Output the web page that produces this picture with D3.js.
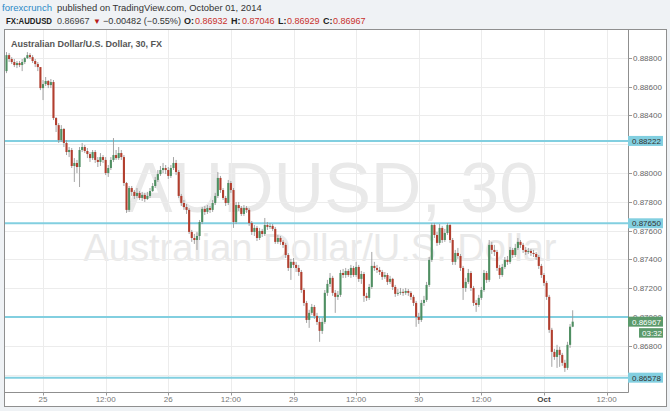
<!DOCTYPE html>
<html><head><meta charset="utf-8">
<script src="https://cdn.jsdelivr.net/npm/d3@7"></script>
<style>body{margin:0;background:#eff2f5;}svg{display:block;}</style>
</head><body><svg id="c" width="670" height="411"></svg>
<script>
// ---- data (AUDUSD, 30-minute bars) ----
const tradingDays = ["2014-09-24","2014-09-25","2014-09-26","2014-09-29","2014-09-30","2014-10-01"];
const firstBarMinute = 17*60;   // first bar 17:00 on the first trading day
const barMinutes = 30;
const opens = [
0.88707,0.88818,0.88791,0.88770,0.88749,0.88763,0.88749,0.88770,0.88797,0.88818,
0.88804,0.88777,0.88756,0.88735,0.88589,0.88617,0.88638,0.88610,0.88631,0.88381,
0.88332,0.88228,0.88305,0.88208,0.88145,0.88159,0.88048,0.88069,0.88041,0.88159,
0.88180,0.88152,0.88131,0.88103,0.88145,0.88090,0.88076,0.88110,0.88090,0.87999,
0.88034,0.88090,0.88124,0.88103,0.88138,0.88110,0.87930,0.87743,0.87895,0.87868,
0.87840,0.87861,0.87826,0.87847,0.87819,0.87840,0.87874,0.87909,0.87951,0.87992,
0.88020,0.88034,0.88020,0.87979,0.88034,0.88069,0.88006,0.87840,0.87791,0.87763,
0.87743,0.87590,0.87548,0.87534,0.87562,0.87659,0.87750,0.87729,0.87756,0.87743,
0.87791,0.87840,0.87965,0.87881,0.87826,0.87791,0.87930,0.87881,0.87659,0.87777,
0.87756,0.87715,0.87756,0.87743,0.87652,0.87590,0.87618,0.87548,0.87597,0.87576,
0.87638,0.87625,0.87632,0.87611,0.87521,0.87548,0.87521,0.87500,0.87430,0.87340,
0.87382,0.87361,0.87340,0.87312,0.87187,0.87097,0.86979,0.87028,0.87069,0.87007,
0.86965,0.86903,0.86965,0.87167,0.87229,0.87271,0.87167,0.87139,0.87153,0.87305,
0.87291,0.87319,0.87291,0.87340,0.87291,0.87347,0.87264,0.87298,0.87146,0.87132,
0.87208,0.87354,0.87340,0.87326,0.87312,0.87278,0.87291,0.87243,0.87264,0.87208,
0.87160,0.87167,0.87174,0.87167,0.87180,0.87167,0.87139,0.87097,0.87000,0.86979,
0.87097,0.87118,0.87222,0.87396,0.87638,0.87569,0.87514,0.87618,0.87534,0.87583,
0.87638,0.87534,0.87382,0.87444,0.87423,0.87340,0.87201,0.87243,0.87305,0.87201,
0.87097,0.87083,0.87132,0.87187,0.87305,0.87257,0.87500,0.87465,0.87451,0.87340,
0.87291,0.87347,0.87396,0.87382,0.87465,0.87430,0.87479,0.87521,0.87500,0.87465,
0.87451,0.87458,0.87444,0.87437,0.87416,0.87354,0.87291,0.87236,0.87139,0.86910,
0.86757,0.86722,0.86771,0.86736,0.86681,0.86646,0.86806,0.86932];
const highs = [
0.88839,0.88832,0.88804,0.88791,0.88777,0.88777,0.88791,0.88804,0.88839,0.88832,
0.88818,0.88791,0.88770,0.88735,0.88645,0.88666,0.88645,0.88652,0.88645,0.88388,
0.88346,0.88332,0.88312,0.88228,0.88180,0.88173,0.88103,0.88090,0.88180,0.88208,
0.88194,0.88173,0.88145,0.88159,0.88159,0.88110,0.88138,0.88124,0.88110,0.88055,
0.88110,0.88242,0.88159,0.88180,0.88159,0.88124,0.87937,0.87909,0.87909,0.87881,
0.87895,0.87874,0.87868,0.87861,0.87868,0.87895,0.87930,0.87972,0.88020,0.88048,
0.88069,0.88055,0.88041,0.88055,0.88110,0.88090,0.88020,0.87854,0.87812,0.87784,
0.87756,0.87604,0.87576,0.87590,0.87673,0.87763,0.87770,0.87777,0.87770,0.87812,
0.87861,0.88006,0.87979,0.87895,0.87840,0.87951,0.87944,0.87895,0.87798,0.87798,
0.87770,0.87777,0.87770,0.87756,0.87666,0.87638,0.87632,0.87618,0.87611,0.87687,
0.87659,0.87652,0.87645,0.87625,0.87569,0.87562,0.87534,0.87514,0.87444,0.87403,
0.87409,0.87382,0.87361,0.87326,0.87201,0.87111,0.87049,0.87090,0.87083,0.87028,
0.86993,0.86993,0.87187,0.87257,0.87305,0.87285,0.87187,0.87180,0.87326,0.87333,
0.87340,0.87333,0.87361,0.87354,0.87382,0.87361,0.87319,0.87312,0.87167,0.87229,
0.87451,0.87382,0.87361,0.87347,0.87326,0.87312,0.87305,0.87285,0.87271,0.87222,
0.87194,0.87201,0.87194,0.87201,0.87194,0.87180,0.87153,0.87111,0.87028,0.87118,
0.87146,0.87243,0.87416,0.87652,0.87652,0.87590,0.87645,0.87632,0.87611,0.87652,
0.87645,0.87548,0.87465,0.87479,0.87437,0.87354,0.87271,0.87333,0.87319,0.87215,
0.87118,0.87153,0.87208,0.87326,0.87319,0.87534,0.87521,0.87500,0.87465,0.87361,
0.87368,0.87416,0.87423,0.87486,0.87479,0.87507,0.87548,0.87534,0.87514,0.87486,
0.87479,0.87472,0.87465,0.87451,0.87430,0.87368,0.87305,0.87250,0.87153,0.86924,
0.86778,0.86806,0.86792,0.86750,0.86702,0.86827,0.86951,0.87046];
const lows = [
0.88693,0.88770,0.88756,0.88735,0.88728,0.88735,0.88707,0.88756,0.88791,0.88791,
0.88763,0.88735,0.88707,0.88575,0.88506,0.88603,0.88589,0.88589,0.88367,0.88284,
0.88208,0.88215,0.88180,0.88124,0.88110,0.88034,0.87937,0.87999,0.87902,0.88145,
0.88138,0.88103,0.88076,0.88090,0.88069,0.88041,0.88048,0.88069,0.87985,0.87972,
0.88020,0.88076,0.88090,0.88090,0.88090,0.87909,0.87722,0.87729,0.87840,0.87819,
0.87826,0.87812,0.87805,0.87798,0.87812,0.87826,0.87868,0.87895,0.87937,0.87979,
0.87999,0.87992,0.87958,0.87965,0.88020,0.87985,0.87826,0.87770,0.87743,0.87715,
0.87576,0.87521,0.87507,0.87465,0.87534,0.87645,0.87708,0.87715,0.87722,0.87729,
0.87777,0.87826,0.87861,0.87812,0.87770,0.87777,0.87861,0.87618,0.87645,0.87736,
0.87701,0.87701,0.87722,0.87632,0.87569,0.87562,0.87527,0.87534,0.87555,0.87562,
0.87604,0.87611,0.87597,0.87507,0.87507,0.87500,0.87479,0.87409,0.87319,0.87257,
0.87340,0.87312,0.87285,0.87167,0.87076,0.86958,0.86924,0.87014,0.86986,0.86944,
0.86827,0.86882,0.86951,0.87146,0.87208,0.87146,0.87028,0.87118,0.87139,0.87271,
0.87271,0.87278,0.87271,0.87278,0.87278,0.87243,0.87229,0.87104,0.87111,0.87118,
0.87194,0.87319,0.87305,0.87291,0.87257,0.87264,0.87222,0.87229,0.87187,0.87139,
0.87146,0.87153,0.87146,0.87153,0.87146,0.87118,0.87076,0.86931,0.86951,0.86965,
0.87076,0.87104,0.87208,0.87382,0.87548,0.87493,0.87500,0.87514,0.87521,0.87569,
0.87514,0.87361,0.87361,0.87403,0.87319,0.87118,0.87174,0.87229,0.87180,0.87076,
0.87035,0.87069,0.87118,0.87174,0.87236,0.87243,0.87437,0.87423,0.87319,0.87264,
0.87278,0.87333,0.87361,0.87368,0.87409,0.87416,0.87465,0.87479,0.87444,0.87430,
0.87437,0.87423,0.87416,0.87396,0.87333,0.87271,0.87215,0.87118,0.86889,0.86653,
0.86702,0.86646,0.86653,0.86660,0.86618,0.86632,0.86785,0.86929];
const closes = [
0.88818,0.88791,0.88770,0.88749,0.88763,0.88749,0.88770,0.88797,0.88818,0.88804,
0.88777,0.88756,0.88735,0.88589,0.88617,0.88638,0.88610,0.88631,0.88381,0.88332,
0.88228,0.88305,0.88208,0.88145,0.88159,0.88048,0.88069,0.88041,0.88159,0.88180,
0.88152,0.88131,0.88103,0.88145,0.88090,0.88076,0.88110,0.88090,0.87999,0.88034,
0.88090,0.88124,0.88103,0.88138,0.88110,0.87930,0.87743,0.87895,0.87868,0.87840,
0.87861,0.87826,0.87847,0.87819,0.87840,0.87874,0.87909,0.87951,0.87992,0.88020,
0.88034,0.88020,0.87979,0.88034,0.88069,0.88006,0.87840,0.87791,0.87763,0.87743,
0.87590,0.87548,0.87534,0.87562,0.87659,0.87750,0.87729,0.87756,0.87743,0.87791,
0.87840,0.87965,0.87881,0.87826,0.87791,0.87930,0.87881,0.87659,0.87777,0.87756,
0.87715,0.87756,0.87743,0.87652,0.87590,0.87618,0.87548,0.87597,0.87576,0.87638,
0.87625,0.87632,0.87611,0.87521,0.87548,0.87521,0.87500,0.87430,0.87340,0.87382,
0.87361,0.87340,0.87312,0.87187,0.87097,0.86979,0.87028,0.87069,0.87007,0.86965,
0.86903,0.86965,0.87167,0.87229,0.87271,0.87167,0.87139,0.87153,0.87305,0.87291,
0.87319,0.87291,0.87340,0.87291,0.87347,0.87264,0.87298,0.87146,0.87132,0.87208,
0.87354,0.87340,0.87326,0.87312,0.87278,0.87291,0.87243,0.87264,0.87208,0.87160,
0.87167,0.87174,0.87167,0.87180,0.87167,0.87139,0.87097,0.87000,0.86979,0.87097,
0.87118,0.87222,0.87396,0.87638,0.87569,0.87514,0.87618,0.87534,0.87583,0.87638,
0.87534,0.87382,0.87444,0.87423,0.87340,0.87201,0.87243,0.87305,0.87201,0.87097,
0.87083,0.87132,0.87187,0.87305,0.87257,0.87500,0.87465,0.87451,0.87340,0.87291,
0.87347,0.87396,0.87382,0.87465,0.87430,0.87479,0.87521,0.87500,0.87465,0.87451,
0.87458,0.87444,0.87437,0.87416,0.87354,0.87291,0.87236,0.87139,0.86910,0.86757,
0.86722,0.86771,0.86736,0.86681,0.86646,0.86806,0.86932,0.86967];
const priceTicks = [0.888,0.886,0.884,0.882,0.880,0.878,0.876,0.874,0.872,0.870,0.868,0.866];
const timeTickLabels = ["25","12:00","26","12:00","29","12:00","30","12:00","Oct","12:00"];
const levelLines = [0.88222, 0.87650, 0.87000, 0.86578];
const levelTagged = [true, true, false, true];
const lastPrice = 0.86967;
const countdown = "03:32";

// ---- layout ----
const svg = d3.select("#c");
const P = {l:5, r:628, t:30, b:392};
const x = d3.scaleLinear().domain([-0.96, 238.2]).range([4, 628]);
const y = d3.scaleLinear().domain([0.864785, 0.889924]).range([P.b, P.t]);
const fmt = d3.format(".5f");
const FONT = "'Liberation Sans', Arial, sans-serif";

// header
svg.append("text").attr("x",2).attr("y",11).attr("font-family",FONT).attr("font-size",9.4)
  .attr("fill","#2d8ac7").attr("textLength",50).attr("lengthAdjust","spacingAndGlyphs").text("forexcrunch");
svg.append("text").attr("x",57).attr("y",11).attr("font-family",FONT).attr("font-size",9.4)
  .attr("fill","#333").text("published on TradingView.com, October 01, 2014");

const h2 = [
 {t:"FX:AUDUSD", x:6, c:"#222", b:true, w:46},
 {t:"0.86967", x:57, c:"#444"},
 {t:"\u25BC", x:93, c:"#b71c1c", s:8},
 {t:"\u22120.00482 (\u22120.55%)", x:103, c:"#333", w:78},
 {t:"O:", x:184, c:"#222", b:true},
 {t:"0.86932", x:195, c:"#c9302c"},
 {t:"H:", x:231, c:"#222", b:true},
 {t:"0.87046", x:242, c:"#c9302c"},
 {t:"L:", x:278, c:"#222", b:true},
 {t:"0.86929", x:287, c:"#c9302c"},
 {t:"C:", x:323, c:"#222", b:true},
 {t:"0.86967", x:333, c:"#c9302c"}
];
svg.selectAll("text.h2").data(h2).join("text").attr("class","h2")
  .attr("x",d=>d.x).attr("y",24).attr("font-family",FONT)
  .attr("font-size",d=>d.s||9).attr("font-weight",d=>d.b?"bold":"normal")
  .attr("textLength",d=>d.w||null).attr("lengthAdjust","spacingAndGlyphs")
  .attr("fill",d=>d.c).text(d=>d.t);

// panel
svg.append("rect").attr("x",4.5).attr("y",29.5).attr("width",662).attr("height",377)
  .attr("fill","#fff").attr("stroke","#8f8f8f");

svg.append("clipPath").attr("id","pc").append("rect")
  .attr("x",5).attr("y",30).attr("width",623).attr("height",362);
const g = svg.append("g").attr("clip-path","url(#pc)");

// watermark
g.append("text").attr("x",332).attr("y",212).attr("text-anchor","middle")
  .attr("font-family",FONT).attr("font-size",70).attr("fill","#e9e9e9").text("AUDUSD, 30");
g.append("text").attr("x",320).attr("y",261).attr("text-anchor","middle")
  .attr("font-family",FONT).attr("font-size",38).attr("fill","#e9e9e9").text("Australian Dollar/U.S. Dollar");

// time slots
const nSlots = 239;
const slots = d3.range(nSlots).map(i => {
  const m = firstBarMinute + barMinutes*i;
  const day = tradingDays[Math.floor(m/1440)] || "2014-10-02";
  return {i, day, min: m % 1440};
});
const tickSlots = slots.filter(s => s.min === 0 || s.min === 720).map((s,k)=>({i:s.i, label: timeTickLabels[k]}))
  .filter(d => d.label !== undefined);

// grid
g.selectAll("line.hg").data(priceTicks).join("line").attr("class","hg")
  .attr("x1",P.l).attr("x2",P.r).attr("y1",d=>Math.round(y(d))+0.5).attr("y2",d=>Math.round(y(d))+0.5)
  .attr("stroke","#ececec");
g.selectAll("line.vg").data(tickSlots).join("line").attr("class","vg")
  .attr("x1",d=>Math.round(x(d.i))+0.5).attr("x2",d=>Math.round(x(d.i))+0.5).attr("y1",P.t).attr("y2",P.b)
  .attr("stroke","#ececec");

// level lines
g.selectAll("line.lv").data(levelLines).join("line").attr("class","lv")
  .attr("x1",P.l).attr("x2",P.r).attr("y1",d=>y(d)).attr("y2",d=>y(d))
  .attr("stroke","#82cfe0").attr("stroke-width",2);

// candles
const bars = closes.map((c,i)=>({i, o:opens[i], h:highs[i], l:lows[i], c}));
const cg = g.append("g");
cg.selectAll("line.wk").data(bars).join("line").attr("class","wk")
  .attr("x1",d=>x(d.i)).attr("x2",d=>x(d.i)).attr("y1",d=>y(d.h)).attr("y2",d=>y(d.l))
  .attr("stroke","#9a9a9a").attr("stroke-width",0.9);
cg.selectAll("rect.bd").data(bars).join("rect").attr("class","bd")
  .attr("x",d=>x(d.i)-1.05).attr("width",2.1)
  .attr("y",d=>y(Math.max(d.o,d.c)))
  .attr("height",d=>Math.max(1, Math.abs(y(d.o)-y(d.c))))
  .attr("fill",d=>d.c>=d.o?"#4f8f62":"#b23e2e");

// axes frame lines
svg.append("line").attr("x1",628.5).attr("x2",628.5).attr("y1",29.5).attr("y2",392.5).attr("stroke","#8f8f8f");
svg.append("line").attr("x1",4.5).attr("x2",628.5).attr("y1",392.5).attr("y2",392.5).attr("stroke","#8f8f8f");

// price axis (a label fully covered by a level tag is not drawn)
const tagPrices = levelLines.filter((v,k)=>levelTagged[k]).concat([lastPrice]);
const hiddenTick = p => tagPrices.some(t => Math.abs(y(t)-y(p)) < 3.5);
const pa = svg.append("g");
pa.selectAll("line").data(priceTicks).join("line")
  .attr("x1",628.5).attr("x2",632).attr("y1",d=>Math.round(y(d))+0.5).attr("y2",d=>Math.round(y(d))+0.5)
  .attr("stroke","#999");
pa.selectAll("text").data(priceTicks.filter(p=>!hiddenTick(p))).join("text")
  .attr("x",633).attr("y",d=>y(d)+3).attr("font-family",FONT).attr("font-size",8)
  .attr("fill","#666").text(d=>fmt(d));

// time axis
const ta = svg.append("g");
ta.selectAll("line").data(tickSlots).join("line")
  .attr("x1",d=>Math.round(x(d.i))+0.5).attr("x2",d=>Math.round(x(d.i))+0.5).attr("y1",392.5).attr("y2",395.5)
  .attr("stroke","#999");
ta.selectAll("text").data(tickSlots).join("text")
  .attr("x",d=>x(d.i)).attr("y",402).attr("text-anchor","middle").attr("font-family",FONT)
  .attr("font-size",8).attr("font-weight",d=>d.label==="Oct"?"bold":"normal")
  .attr("fill",d=>d.label==="Oct"?"#444":"#777").text(d=>d.label);

// level tags
levelLines.forEach((v,k)=>{
  if(!levelTagged[k]) return;
  const yy = y(v);
  svg.append("rect").attr("x",628).attr("y",yy-5).attr("width",35).attr("height",10).attr("fill","#82cfe0");
  svg.append("text").attr("x",632).attr("y",yy+3).attr("font-family",FONT).attr("font-size",8)
    .attr("fill","#333").text(fmt(v));
});
// last price tag + countdown
const yl = y(lastPrice);
svg.append("rect").attr("x",628).attr("y",yl-5).attr("width",35).attr("height",10).attr("fill","#5b9a6b");
svg.append("text").attr("x",632).attr("y",yl+3).attr("font-family",FONT).attr("font-size",8).attr("fill","#fff").text(fmt(lastPrice));
svg.append("rect").attr("x",639).attr("y",yl+6.5).attr("width",24).attr("height",9.5).attr("fill","#5b9a6b");
svg.append("text").attr("x",642).attr("y",yl+14).attr("font-family",FONT).attr("font-size",8).attr("fill","#fff").text(countdown);

// chart title
svg.append("text").attr("x",11).attr("y",47).attr("font-family",FONT).attr("font-size",9)
  .attr("font-weight","bold").attr("fill","#555").text("Australian Dollar/U.S. Dollar, 30, FX");
</script></body></html>
